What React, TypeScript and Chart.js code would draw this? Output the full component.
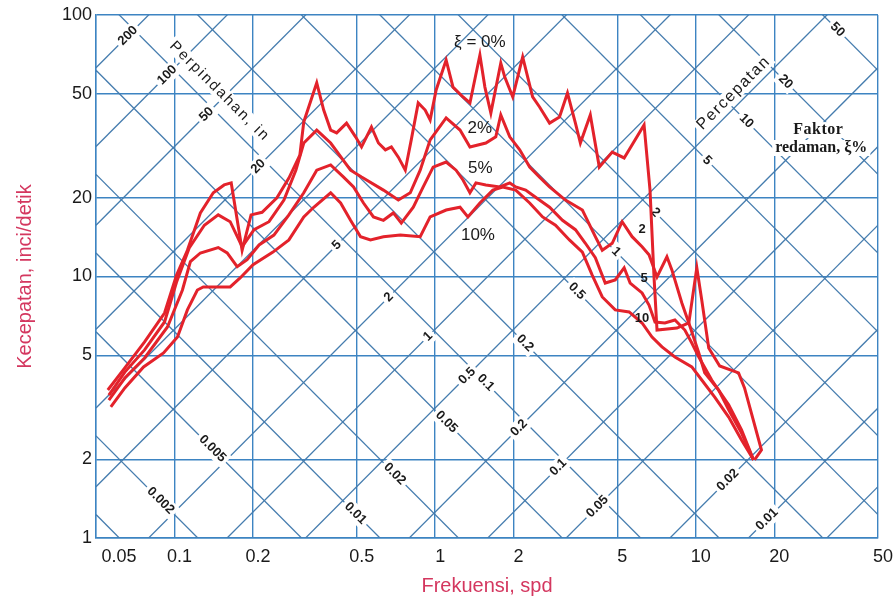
import React, { useEffect, useRef } from 'react';
import { Chart, registerables } from 'chart.js';

Chart.register(...registerables);

// ---------- axis ticks ----------
const xTicks = [0.05, 0.1, 0.2, 0.5, 1, 2, 5, 10, 20, 50];
const xTickLabels = ['0.05', '0.1', '0.2', '0.5', '1', '2', '5', '10', '20', '50'];
const yTicks = [1, 2, 5, 10, 20, 50, 100];
const yTickLabels = ['1', '2', '5', '10', '20', '50', '100'];

// ---------- tripartite diagonal lines ----------
const dispLines = [0.005, 0.01, 0.02, 0.05, 0.1, 0.2, 0.5, 1, 2, 5, 10, 20, 50, 100, 200]; // in
const accLines = [0.001, 0.002, 0.005, 0.01, 0.02, 0.05, 0.1, 0.2, 0.5, 1, 2, 5, 10, 20, 50]; // g
const dispLabelsA = [200, 100, 50, 20, 5, 2, 1, 0.5, 0.2, 0.1, 0.05];
const dispLabelsB = [0.02, 0.01];
const accLabelsA = [0.01, 0.02, 0.05, 0.1, 0.2, 0.5, 1, 2, 5, 10, 20, 50];
const accLabelsB = [0.002, 0.005];
const dispGuideA = 0.09; // g line the displacement labels sit on
const dispGuideB = 0.36;
const accGuideA = 0.4; // in line the acceleration labels sit on
const accGuideB = 2.5;

// ---------- spectra (frequency cps, velocity in/s) ----------
const freq0 = [0.0555, 0.0645, 0.0768, 0.0916, 0.1018, 0.1121, 0.1257, 0.1409, 0.1551, 0.1651, 0.1818, 0.1967, 0.2168, 0.2472, 0.2748, 0.3027, 0.3134, 0.3514, 0.3737, 0.3974, 0.419, 0.4573, 0.4951, 0.522, 0.5697, 0.606, 0.6444, 0.6795, 0.7225, 0.7682, 0.8098, 0.8612, 0.9159, 0.957, 1.009, 1.102, 1.171, 1.279, 1.36, 1.485, 1.552, 1.636, 1.786, 1.85, 1.985, 2.167, 2.366, 2.516, 2.748, 3.0, 3.219, 3.453, 3.608, 3.938, 4.264, 4.779, 5.311, 6.332, 6.674, 6.914, 7.099, 8.464, 9.403, 10.09, 10.54, 11.21, 12.35, 14.59, 15.38, 17.86, 16.8];
const vel0 = [3.68, 4.47, 5.62, 7.25, 10.1, 12.6, 17.5, 20.9, 22.4, 22.8, 12.6, 17.2, 17.6, 20.0, 23.8, 29.1, 39.0, 55.0, 43.3, 36.3, 35.4, 38.6, 34.2, 31.3, 37.3, 32.4, 30.5, 31.3, 28.6, 25.5, 33.3, 46.1, 43.3, 39.7, 51.7, 67.3, 53.0, 48.6, 46.1, 70.3, 53.0, 42.2, 65.5, 57.9, 48.6, 69.1, 48.6, 44.5, 38.6, 40.7, 50.3, 38.6, 32.4, 41.5, 26.2, 29.9, 28.4, 38.0, 21.4, 9.96, 6.24, 6.35, 6.64, 10.8, 8.13, 5.33, 4.55, 4.28, 3.75, 2.17, 1.99];

const freq2 = [0.056, 0.0645, 0.0768, 0.0916, 0.1018, 0.1141, 0.1302, 0.1472, 0.1636, 0.1818, 0.202, 0.2305, 0.263, 0.2922, 0.3134, 0.3514, 0.3974, 0.4737, 0.522, 0.6333, 0.7225, 0.8028, 0.8764, 0.957, 1.102, 1.246, 1.36, 1.565, 1.709, 1.786, 1.933, 2.111, 2.305, 2.516, 2.748, 3.162, 3.672, 4.117, 4.377, 4.779, 5.219, 5.697, 6.222, 6.615, 7.099, 7.749, 8.096, 8.842, 9.403, 10.27, 10.82, 12.24, 13.37, 14.98, 16.65];
const vel2 = [3.52, 4.31, 5.24, 6.70, 9.5, 12.9, 15.7, 17.2, 16.2, 13.0, 15.1, 16.2, 19.6, 25.5, 32.4, 36.3, 32.4, 25.5, 24.0, 21.4, 19.6, 20.9, 25.5, 33.3, 40.4, 36.3, 31.3, 32.4, 34.2, 41.5, 34.2, 30.5, 26.2, 24.0, 22.0, 19.6, 17.96, 14.2, 12.6, 13.4, 16.2, 14.2, 13.0, 12.1, 9.96, 11.9, 10.6, 7.92, 6.64, 5.10, 4.28, 3.68, 3.09, 2.52, 1.99];

const freq5 = [0.056, 0.0645, 0.0768, 0.094, 0.1073, 0.1151, 0.1257, 0.1472, 0.1593, 0.174, 0.19, 0.2111, 0.2407, 0.2748, 0.3134, 0.3514, 0.3974, 0.4455, 0.4864, 0.5311, 0.5799, 0.6333, 0.6914, 0.7416, 0.8245, 0.9, 0.9826, 1.102, 1.203, 1.279, 1.36, 1.434, 1.565, 1.771, 1.933, 2.038, 2.225, 2.429, 2.748, 3.08, 3.453, 3.771, 4.117, 4.494, 4.908, 5.311, 5.6, 6.222, 6.615, 6.975, 7.613, 8.315, 9.079, 9.654, 10.27, 11.51, 13.37, 14.98, 16.65];
const vel5 = [3.37, 4.09, 4.88, 6.41, 8.88, 11.4, 12.3, 12.9, 12.3, 10.9, 11.6, 13.2, 14.4, 17.2, 20.9, 25.5, 26.7, 24.0, 22.0, 19.1, 16.9, 16.4, 17.5, 16.0, 18.4, 22.0, 26.2, 27.4, 25.5, 23.4, 20.9, 22.8, 22.4, 22.0, 22.8, 22.0, 21.4, 20.1, 18.4, 16.4, 15.1, 13.4, 11.8, 9.44, 9.70, 10.8, 9.44, 8.65, 7.78, 6.70, 6.64, 6.82, 6.24, 5.57, 4.92, 4.02, 3.23, 2.59, 1.99];

const freq10 = [0.057, 0.0645, 0.0761, 0.0908, 0.1027, 0.1121, 0.1224, 0.129, 0.1636, 0.1786, 0.2002, 0.2387, 0.2748, 0.3134, 0.3422, 0.3974, 0.4339, 0.4737, 0.5174, 0.5647, 0.6333, 0.7353, 0.8764, 0.957, 1.102, 1.246, 1.336, 1.485, 1.665, 1.817, 2.038, 2.305, 2.584, 2.896, 3.275, 3.672, 4.009, 4.377, 4.908, 5.55, 6.222, 6.794, 7.418, 8.315, 9.654, 10.54, 11.82, 13.37, 14.98, 16.65];
const vel10 = [3.17, 3.75, 4.51, 5.10, 5.87, 7.45, 8.88, 9.12, 9.12, 9.87, 11.1, 12.4, 13.8, 16.9, 18.4, 20.9, 19.1, 16.4, 14.2, 13.8, 14.2, 14.4, 14.2, 16.9, 17.96, 18.4, 16.9, 19.1, 21.4, 22.0, 21.4, 19.1, 16.9, 15.7, 13.8, 12.4, 10.1, 8.35, 7.45, 7.32, 6.64, 5.87, 5.38, 4.92, 4.51, 4.02, 3.46, 2.90, 2.37, 1.99];

// ---------- annotations ----------
const curveNotes = ['ξ = 0%', '2%', '5%', '10%'];
const curveNoteF = [1.485, 1.485, 1.49, 1.46];
const curveNoteV = [78.8, 37.0, 26.0, 14.4];
const dampTags = ['2', '5', '10'];
const dampTagF = [6.22, 6.33, 6.22];
const dampTagV = [15.1, 9.87, 6.94];

const G = 386.1;
const TWO_PI = 2 * Math.PI;
const GRID = '#3d84c2';
const DIAG = '#457cae';
const RED = '#e3222b';
const TITLE = '#d4375f';
const INK = '#1a1a1a';
const SANS = '"Liberation Sans", Arial, sans-serif';
const SERIF = '"Liberation Serif", "Times New Roman", serif';

function tag(ctx: CanvasRenderingContext2D, text: string, x: number, y: number, angle: number, font: string, bg: boolean, spacing = '0px') {
  ctx.save();
  ctx.translate(x, y);
  ctx.rotate(angle);
  ctx.font = font;
  (ctx as any).letterSpacing = spacing;
  const w = ctx.measureText(text).width;
  if (bg) {
    ctx.fillStyle = '#ffffff';
    ctx.fillRect(-w / 2 - 3, -8, w + 6, 16);
  }
  ctx.fillStyle = INK;
  ctx.textAlign = 'center';
  ctx.textBaseline = 'middle';
  ctx.fillText(text, 0, 0);
  ctx.restore();
}

const tripartite = {
  id: 'tripartite',
  beforeDatasetsDraw(chart: any) {
    const { ctx, chartArea: ca, scales } = chart;
    const xs = scales.x;
    const ys = scales.y;
    const P = (f: number, v: number) => [xs.getPixelForValue(f), ys.getPixelForValue(v)];
    ctx.save();
    ctx.beginPath();
    ctx.rect(ca.left, ca.top, ca.right - ca.left, ca.bottom - ca.top);
    ctx.clip();
    ctx.strokeStyle = DIAG;
    ctx.lineWidth = 1.3;
    const fa = xs.min;
    const fb = xs.max;
    dispLines.forEach((d) => {
      const [x1, y1] = P(fa, TWO_PI * fa * d);
      const [x2, y2] = P(fb, TWO_PI * fb * d);
      ctx.beginPath(); ctx.moveTo(x1, y1); ctx.lineTo(x2, y2); ctx.stroke();
    });
    accLines.forEach((a) => {
      const [x1, y1] = P(fa, (a * G) / (TWO_PI * fa));
      const [x2, y2] = P(fb, (a * G) / (TWO_PI * fb));
      ctx.beginPath(); ctx.moveTo(x1, y1); ctx.lineTo(x2, y2); ctx.stroke();
    });
    const lf = `bold 13px ${SANS}`;
    const dispTag = (d: number, ag: number) => {
      const f = Math.sqrt((G * ag) / d) / TWO_PI;
      const [x, y] = P(f, TWO_PI * f * d);
      tag(ctx, String(d), x, y, -Math.PI / 4, lf, true);
    };
    const accTag = (a: number, dg: number) => {
      const f = Math.sqrt((G * a) / dg) / TWO_PI;
      const [x, y] = P(f, TWO_PI * f * dg);
      tag(ctx, String(a), x, y, Math.PI / 4, lf, true);
    };
    dispLabelsA.forEach((d) => dispTag(d, dispGuideA));
    dispLabelsB.forEach((d) => dispTag(d, dispGuideB));
    accLabelsA.forEach((a) => accTag(a, accGuideA));
    accLabelsB.forEach((a) => accTag(a, accGuideB));

    let [tx, ty] = P(0.149, 51);
    tag(ctx, 'Perpindahan, in', tx, ty, Math.PI / 4, `15px ${SANS}`, true, '2px');
    [tx, ty] = P(13.97, 50.3);
    tag(ctx, 'Percepatan', tx, ty, -Math.PI / 4, `16px ${SANS}`, true, '1.5px');
    [tx, ty] = P(29.5, 36.3);
    tag(ctx, 'Faktor', tx, ty, 0, `bold 16px ${SERIF}`, true, '0.5px');
    [tx, ty] = P(30.3, 31.0);
    tag(ctx, 'redaman, ξ%', tx, ty, 0, `bold 16px ${SERIF}`, true, '0px');
    ctx.restore();
  },
  afterDatasetsDraw(chart: any) {
    const { ctx, scales } = chart;
    const xs = scales.x;
    const ys = scales.y;
    curveNotes.forEach((t, i) => {
      tag(ctx, t, xs.getPixelForValue(curveNoteF[i]), ys.getPixelForValue(curveNoteV[i]), 0, `17px ${SANS}`, false);
    });
    dampTags.forEach((t, i) => {
      tag(ctx, t, xs.getPixelForValue(dampTagF[i]), ys.getPixelForValue(dampTagV[i]), 0, `bold 13px ${SANS}`, false);
    });
  },
};

function series(f: number[], v: number[]) {
  return {
    data: f.map((x, i) => ({ x, y: v[i] })),
    borderColor: RED,
    borderWidth: 3,
    pointRadius: 0,
    fill: false,
    tension: 0,
  };
}

export default function App() {
  const ref = useRef<HTMLCanvasElement>(null);
  useEffect(() => {
    const chart = new Chart(ref.current as HTMLCanvasElement, {
      type: 'line',
      data: {
        datasets: [
          { label: 'ξ = 0%', ...series(freq0, vel0) },
          { label: '2%', ...series(freq2, vel2) },
          { label: '5%', ...series(freq5, vel5) },
          { label: '10%', ...series(freq10, vel10) },
        ],
      },
      options: {
        responsive: false,
        animation: false,
        devicePixelRatio: 1,
        layout: { padding: { left: 0, right: 16, top: 15, bottom: 0 } },
        plugins: { legend: { display: false }, tooltip: { enabled: false } },
        scales: {
          x: {
            type: 'logarithmic',
            min: 0.05,
            max: 50,
            afterBuildTicks: (s: any) => { s.ticks = xTicks.map((value) => ({ value })); },
            afterFit: (s: any) => { s.height = 63; },
            grid: { color: GRID, lineWidth: 1.4, drawTicks: false },
            border: { display: true, color: GRID, width: 1.4 },
            ticks: {
              autoSkip: false,
              maxRotation: 0,
              padding: 8,
              labelOffset: 5,
              color: INK,
              font: { family: SANS, size: 18 },
              callback: (_v: any, i: number) => (i === 0 ? '\u2002\u2002\u2002\u2002' + xTickLabels[i] : xTickLabels[i]),
            },
            title: { display: true, text: 'Frekuensi, spd', color: TITLE, font: { family: SANS, size: 20 }, padding: { top: 0, bottom: 3 } },
          },
          y: {
            type: 'logarithmic',
            min: 1,
            max: 100,
            afterBuildTicks: (s: any) => { s.ticks = yTicks.map((value) => ({ value })); },
            afterFit: (s: any) => { s.width = 96; },
            grid: { color: GRID, lineWidth: 1.4, drawTicks: false },
            border: { display: true, color: GRID, width: 1.4 },
            ticks: {
              padding: 4,
              color: INK,
              font: { family: SANS, size: 18 },
              callback: (_v: any, i: number) => yTickLabels[i],
            },
            title: { display: true, text: 'Kecepatan, inci/detik', color: TITLE, font: { family: SANS, size: 20 }, padding: { top: 13, bottom: 0 } },
          },
        },
      },
      plugins: [tripartite],
    } as any);
    return () => chart.destroy();
  }, []);
  return (
    <div style={{ position: 'absolute', left: 0, top: 0, width: 896, height: 601, background: '#ffffff' }}>
      <canvas ref={ref} width={896} height={601} style={{ display: 'block' }} />
    </div>
  );
}
